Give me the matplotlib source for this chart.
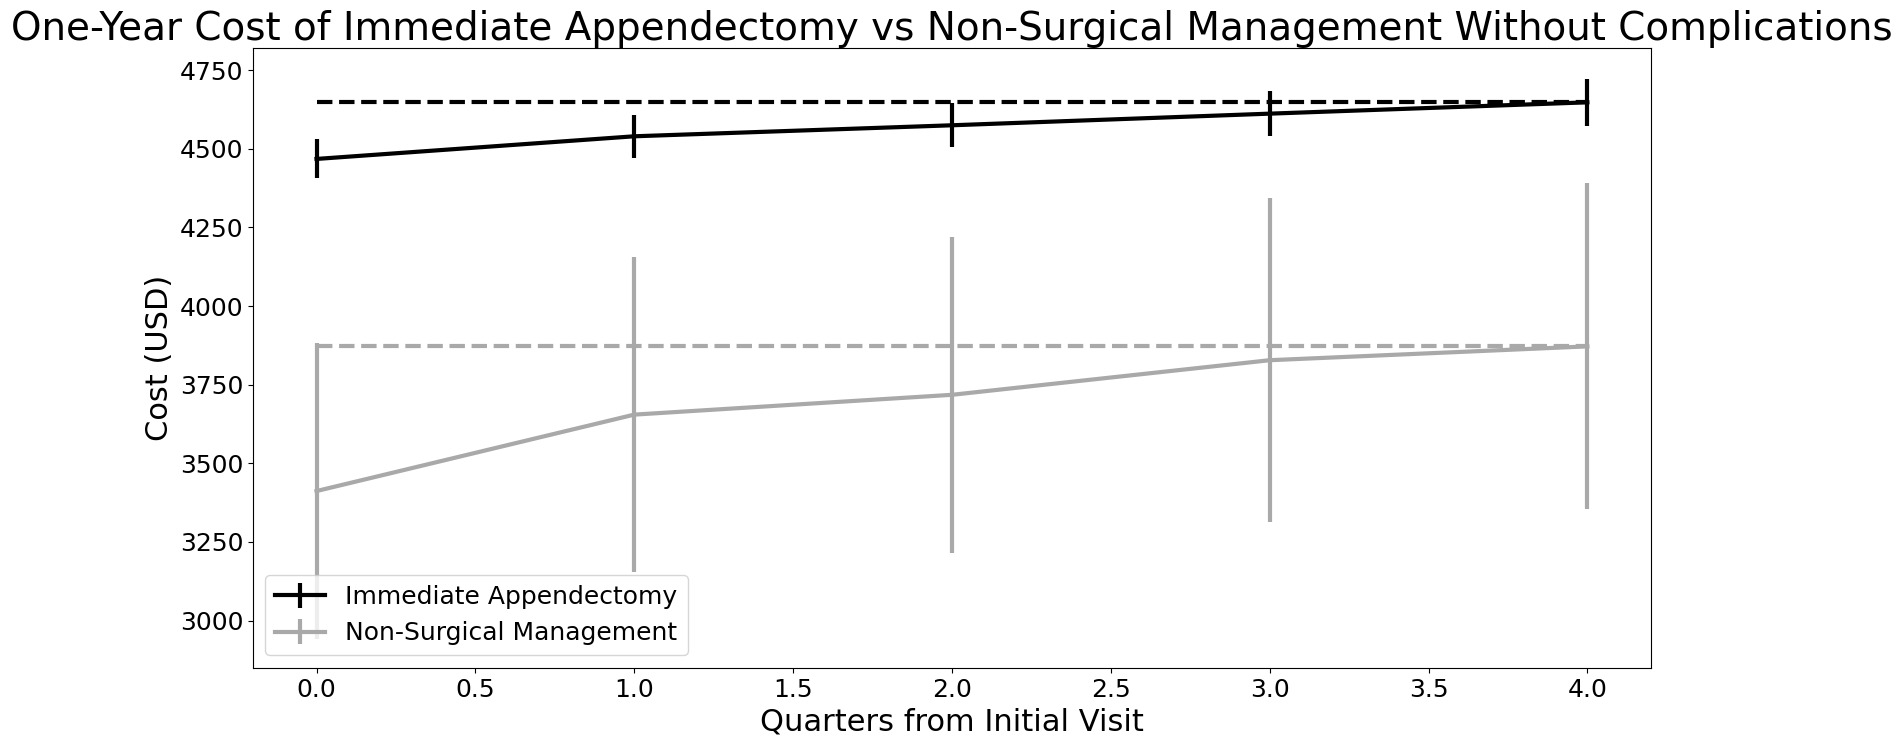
import numpy as np
import matplotlib
matplotlib.use("Agg")
import matplotlib.pyplot as plt

quarters = [0, 1, 2, 3, 4]
surg_cost = [4468, 4540, 4575, 4612, 4648]
surg_err = [62, 68, 70, 72, 74]
nonsurg_cost = [3412, 3655, 3718, 3828, 3872]
nonsurg_err = [470, 500, 503, 515, 518]

fig, ax = plt.subplots(figsize=(19.02, 7.42), dpi=100)
ax.errorbar(quarters, surg_cost, yerr=surg_err, color="black", lw=3, elinewidth=3,
            label="Immediate Appendectomy")
ax.errorbar(quarters, nonsurg_cost, yerr=nonsurg_err, color="darkgray", lw=3, elinewidth=3,
            label="Non-Surgical Management")
ax.plot([quarters[0], quarters[-1]], [surg_cost[-1]] * 2, "--", color="black", lw=3)
ax.plot([quarters[0], quarters[-1]], [nonsurg_cost[-1]] * 2, "--", color="darkgray", lw=3)

ax.set_title("One-Year Cost of Immediate Appendectomy vs Non-Surgical Management Without Complications",
             fontsize=28)
ax.set_xlabel("Quarters from Initial Visit", fontsize=22)
ax.set_ylabel("Cost (USD)", fontsize=22)
ax.tick_params(labelsize=18)
ax.set_ylim(2850, 4820)
ax.legend(loc="lower left", fontsize=18)
fig.subplots_adjust(left=0.133, right=0.868, top=0.935, bottom=0.1)
fig.savefig("out.png")
